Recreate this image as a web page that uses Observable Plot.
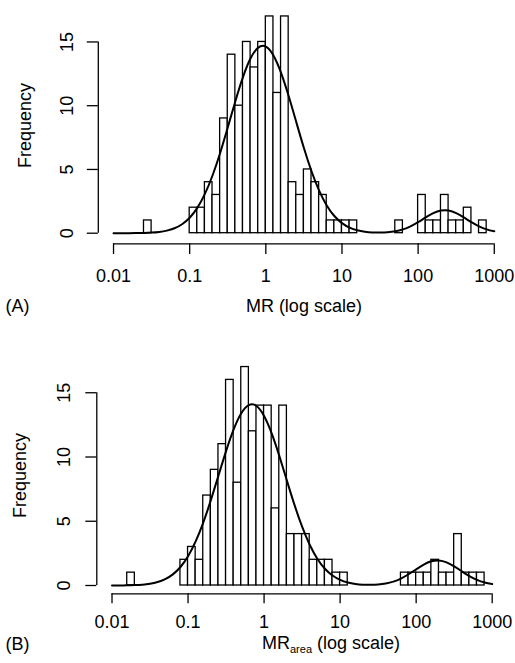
<!DOCTYPE html>
<html><head><meta charset="utf-8">
<script src="https://cdn.jsdelivr.net/npm/d3@7"></script>
<script src="https://cdn.jsdelivr.net/npm/@observablehq/plot@0.6"></script>
<style>
html,body{margin:0;padding:0;background:#fff;}
#chart{position:relative;width:515px;height:663px;overflow:hidden;background:#fff;}
#chart svg{position:absolute;left:0;}
</style></head><body><div id="chart"></div>
<script>
const FONT = '"Liberation Sans", Arial, Helvetica, sans-serif';
const xTicks = [0.01, 0.1, 1, 10, 100, 1000];
const xTickLabels = ["0.01", "0.1", "1", "10", "100", "1000"];
const yTicks = [0, 5, 10, 15];
const yLabel = "Frequency";
const binWidthLog = 0.1;

// Panel A: lower bin edges (log10 MR) and counts
const binsA = [-1.6, -1.0, -0.9, -0.8, -0.7, -0.6, -0.5, -0.4, -0.3, -0.2, -0.1, 0.0, 0.1, 0.2, 0.3, 0.4, 0.5, 0.6, 0.7, 0.8, 0.9, 1.0, 1.1, 1.7, 2.0, 2.1, 2.2, 2.3, 2.4, 2.5, 2.6, 2.8];
const countsA = [1, 2, 2, 4, 3, 9, 14, 10, 15, 13, 15, 17, 11, 17, 4, 3, 5, 4, 3, 1, 1, 1, 1, 1, 3, 1, 1, 3, 1, 1, 2, 1];

// Panel B: lower bin edges (log10 MR_area) and counts
const binsB = [-1.8, -1.1, -1.0, -0.9, -0.8, -0.7, -0.6, -0.5, -0.4, -0.3, -0.2, -0.1, 0.0, 0.1, 0.2, 0.3, 0.4, 0.5, 0.6, 0.7, 0.8, 0.9, 1.0, 1.8, 1.9, 2.0, 2.1, 2.2, 2.3, 2.4, 2.5, 2.6, 2.7, 2.8];
const countsB = [1, 2, 3, 2, 7, 9, 11, 16, 8, 17, 12, 14, 14, 6, 14, 4, 4, 4, 2, 2, 2, 1, 1, 1, 1, 1, 1, 2, 1, 1, 4, 1, 1, 1];

// Fitted curves (log10 x, frequency)
const curveLogX = [-2.0,-1.9,-1.8,-1.7,-1.6,-1.5,-1.4,-1.3,-1.2,-1.1,-1.0,-0.9,-0.8,-0.7,-0.6,-0.5,-0.4,-0.3,-0.2,-0.1,0.0,0.1,0.2,0.3,0.4,0.5,0.6,0.7,0.8,0.9,1.0,1.1,1.2,1.3,1.4,1.5,1.6,1.7,1.8,1.9,2.0,2.1,2.2,2.3,2.4,2.5,2.6,2.7,2.8,2.9,3.0];
const curveA = [0.000,0.001,0.003,0.009,0.020,0.046,0.099,0.201,0.386,0.704,1.216,1.989,3.084,4.526,6.296,8.295,10.355,12.244,13.716,14.557,14.637,13.942,12.579,10.755,8.710,6.681,4.857,3.344,2.181,1.348,0.789,0.438,0.231,0.117,0.062,0.049,0.074,0.146,0.298,0.540,0.869,1.241,1.575,1.773,1.773,1.575,1.241,0.869,0.540,0.298,0.146];
const curveB = [0.002,0.006,0.014,0.031,0.067,0.137,0.266,0.492,0.863,1.440,2.280,3.428,4.896,6.640,8.552,10.461,12.150,13.405,14.042,13.969,13.198,11.841,10.090,8.164,6.273,4.578,3.173,2.088,1.305,0.775,0.437,0.234,0.122,0.066,0.052,0.077,0.154,0.301,0.542,0.874,1.261,1.629,1.882,1.946,1.800,1.490,1.104,0.732,0.434,0.230,0.109];

const panelLabels = ["(A)", "(B)"];
const xLabelA = "MR (log scale)";
const xLabelB = ["MR", "area", " (log scale)"];

const xDomain = [10 ** -2.2, 10 ** 3.2];

function drawPanel(cfg) {
  const bars = cfg.bins.map((b, i) => ({x1: 10 ** b, x2: 10 ** (b + binWidthLog), n: cfg.counts[i]}));
  const line = curveLogX.map((lx, i) => ({x: 10 ** lx, y: cfg.curve[i]}));
  const yMin = -(cfg.axisLineY - cfg.zeroY) / cfg.unitPx;
  const yMax = cfg.zeroY / cfg.unitPx;
  const frameMidY = cfg.axisLineY / 2;
  const marks = [
    Plot.rect(bars, {x1: "x1", x2: "x2", y1: d => 0, y2: "n", fill: "white", stroke: "black", strokeWidth: 1.3}),
    Plot.line(line, {x: "x", y: "y", curve: "natural", stroke: "black", strokeWidth: 2}),
    Plot.ruleY([yMin], {x1: d => xTicks[0], x2: d => xTicks[xTicks.length - 1], stroke: "black", strokeWidth: 1.3}),
    Plot.ruleX([xDomain[0]], {y1: d => yTicks[0], y2: d => yTicks[yTicks.length - 1], stroke: "black", strokeWidth: 1.3}),
    Plot.axisX({ticks: xTicks, tickFormat: d => xTickLabels[xTicks.indexOf(d)], tickSize: cfg.xTickSize, tickPadding: cfg.xTickPadding, strokeWidth: 1.3, fontSize: 18, label: null}),
    Plot.axisY({ticks: yTicks, tickSize: 11, tickRotate: -90, tickPadding: cfg.yTickPadding, strokeWidth: 1.3, fontSize: 18, label: null}),
    Plot.text([yLabel], {frameAnchor: "left", rotate: -90, dx: cfg.freqX - cfg.marginLeft, dy: cfg.freqY - frameMidY, fontSize: 18, textAnchor: "middle", lineAnchor: "middle"}),
    Plot.text([cfg.panelLabel], {frameAnchor: "bottom-left", dx: 5 - cfg.marginLeft, dy: cfg.xLabelBaseline - cfg.axisLineY, fontSize: 18, textAnchor: "start", lineAnchor: "bottom"})
  ];
  if (cfg.xLabel) {
    marks.push(Plot.text([cfg.xLabel], {frameAnchor: "bottom", dy: cfg.xLabelBaseline - cfg.axisLineY, fontSize: 18, textAnchor: "middle", lineAnchor: "bottom"}));
  }
  const svg = Plot.plot({
    width: 515,
    height: cfg.height,
    marginTop: 0,
    marginBottom: cfg.height - cfg.axisLineY,
    marginLeft: cfg.marginLeft,
    marginRight: cfg.marginRight,
    style: {fontFamily: FONT, fontSize: "18px", background: "white", color: "black", overflow: "visible"},
    x: {type: "log", domain: xDomain},
    y: {domain: [yMin, yMax]},
    marks
  });
  svg.style.top = cfg.top + "px";
  if (cfg.xLabelParts) {
    const t = d3.select(svg).append("text")
      .attr("x", cfg.xLabelStart).attr("y", cfg.xLabelBaseline)
      .attr("text-anchor", "start")
      .attr("font-family", FONT).attr("font-size", 18).attr("fill", "black");
    t.append("tspan").text(cfg.xLabelParts[0]);
    t.append("tspan").attr("font-size", 11).attr("dy", 4).text(cfg.xLabelParts[1]);
    t.append("tspan").attr("dy", -4).text(cfg.xLabelParts[2]);
  }
  document.getElementById("chart").appendChild(svg);
}

drawPanel({
  bins: binsA, counts: countsA, curve: curveA,
  top: 0, height: 330,
  marginLeft: 97.8, marginRight: 6,
  zeroY: 232.7, axisLineY: 243.3, unitPx: 12.75,
  xTickSize: 10.7, xTickPadding: 14.3, yTickPadding: 14.4,
  freqX: 25, freqY: 125,
  panelLabel: panelLabels[0], xLabel: xLabelA, xLabelBaseline: 311.5
});

drawPanel({
  bins: binsB, counts: countsB, curve: curveB,
  top: 330, height: 333,
  marginLeft: 96.3, marginRight: 8.1,
  zeroY: 255, axisLineY: 263.3, unitPx: 12.85,
  xTickSize: 10, xTickPadding: 11.7, yTickPadding: 15.4,
  freqX: 20, freqY: 145,
  panelLabel: panelLabels[1], xLabelParts: xLabelB, xLabelStart: 262, xLabelBaseline: 319
});
</script></body></html>
